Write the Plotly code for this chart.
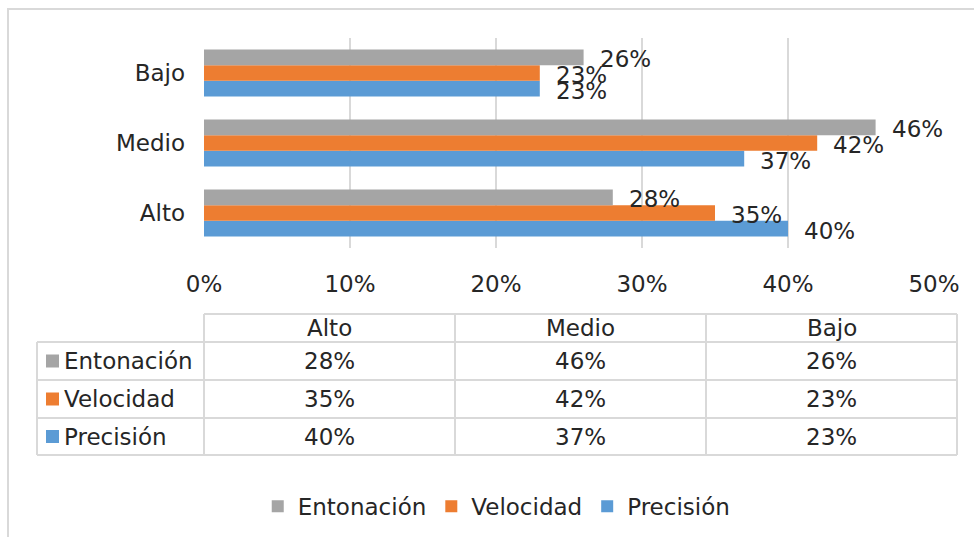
import plotly.graph_objects as go

# niveles, de abajo hacia arriba en el grafico (y de izquierda a derecha en la tabla)
niveles = ['Alto', 'Medio', 'Bajo']

series = ['Entonación', 'Velocidad', 'Precisión']
entonacion = [28, 46, 26]
velocidad = [35, 42, 23]
precision = [40, 37, 23]
colores = ['#A5A5A5', '#ED7D31', '#5B9BD5']
valores = [entonacion, velocidad, precision]

ticks_x = [0, 10, 20, 30, 40, 50]

FONT = 'DejaVu Sans'
TXT = '#262626'
LINEA = '#D9D9D9'
SIZE = 23

# tamano del lienzo y del area de trazado (pixeles)
W, H = 974, 537
L, R, T, B = 204, 40, 38, 289
PW = W - L - R
PH = H - T - B


# pasar de pixeles a coordenadas "paper"
def px(x):
    return (x - L) / PW


def py(y):
    return (H - B - y) / PH


fig = go.Figure()

# Precision abajo, Entonacion arriba dentro de cada grupo
for i in [2, 1, 0]:
    fig.add_trace(go.Bar(
        y=niveles, x=valores[i], name=series[i], orientation='h',
        marker=dict(color=colores[i], line=dict(width=0)),
    ))

bargap = 0.33
slot = PH / len(niveles) * (1 - bargap) / 3

annotations = []
# etiquetas de datos
for i, s in enumerate(series):
    for nivel, v in zip(niveles, valores[i]):
        annotations.append(dict(
            x=v, y=nivel, xref='x', yref='y', text=f'{v}%',
            showarrow=False, xanchor='left', yanchor='middle',
            xshift=14, yshift=(1 - i) * slot - 2,
            font=dict(family=FONT, size=SIZE, color=TXT),
        ))

# tabla de datos
col_x = [37, 204, 455, 706, 957]
fila_y = [314, 342, 380, 418, 455]
shapes = []


def linea(x0, y0, x1, y1):
    shapes.append(dict(type='line', xref='paper', yref='paper',
                       x0=px(x0), y0=py(y0), x1=px(x1), y1=py(y1),
                       line=dict(color=LINEA, width=2)))


linea(col_x[1], fila_y[0], col_x[-1], fila_y[0])
for y in fila_y[1:]:
    linea(col_x[0], y, col_x[-1], y)
linea(col_x[0], fila_y[1], col_x[0], fila_y[-1])
for x in col_x[1:]:
    linea(x, fila_y[0], x, fila_y[-1])

# encabezados
for j, nivel in enumerate(niveles):
    annotations.append(dict(
        x=px((col_x[j + 1] + col_x[j + 2]) / 2), y=py((fila_y[0] + fila_y[1]) / 2),
        xref='paper', yref='paper', text=nivel, showarrow=False,
        xanchor='center', yanchor='middle',
        font=dict(family=FONT, size=SIZE, color=TXT),
    ))

# filas
for i, s in enumerate(series):
    yc = (fila_y[i + 1] + fila_y[i + 2]) / 2
    shapes.append(dict(type='rect', xref='paper', yref='paper',
                       x0=px(46), x1=px(59), y0=py(yc - 6.5), y1=py(yc + 6.5),
                       fillcolor=colores[i], line=dict(width=0)))
    annotations.append(dict(
        x=px(62), y=py(yc), xref='paper', yref='paper', text=s,
        showarrow=False, xanchor='left', yanchor='middle',
        font=dict(family=FONT, size=SIZE, color=TXT),
    ))
    for j, v in enumerate(valores[i]):
        annotations.append(dict(
            x=px((col_x[j + 1] + col_x[j + 2]) / 2), y=py(yc),
            xref='paper', yref='paper', text=f'{v}%', showarrow=False,
            xanchor='center', yanchor='middle',
            font=dict(family=FONT, size=SIZE, color=TXT),
        ))

# marco exterior
shapes.append(dict(type='rect', xref='paper', yref='paper',
                   x0=px(8), y0=py(9), x1=px(1000), y1=py(600),
                   line=dict(color=LINEA, width=2), layer='below'))

fig.update_layout(
    width=W, height=H,
    margin=dict(l=L, r=R, t=T, b=B),
    paper_bgcolor='white', plot_bgcolor='white',
    barmode='group', bargap=bargap, bargroupgap=0,
    font=dict(family=FONT, size=SIZE, color=TXT),
    showlegend=True,
    legend=dict(orientation='h', traceorder='reversed',
                xref='container', yref='container',
                x=0.51, y=0.057, xanchor='center', yanchor='middle',
                font=dict(family=FONT, size=SIZE, color=TXT),
                itemwidth=30),
    annotations=annotations,
    shapes=shapes,
)
fig.update_xaxes(range=[0, 50], tickvals=ticks_x, ticktext=[f'{t}%' for t in ticks_x],
                 showgrid=True, gridcolor=LINEA, gridwidth=1.5,
                 zeroline=False, showline=False, ticks='', ticklabelstandoff=20,
                 tickfont=dict(family=FONT, size=SIZE, color=TXT))
fig.update_yaxes(range=[-0.5, 2.5], showgrid=False, zeroline=False, showline=False,
                 ticks='', ticklabelstandoff=18,
                 tickfont=dict(family=FONT, size=SIZE, color=TXT))

# quitar el margen del body para que la figura empiece en (0, 0)
fig.write_html('out.html', config={'displayModeBar': False},
               post_script="document.body.style.margin='0';")
